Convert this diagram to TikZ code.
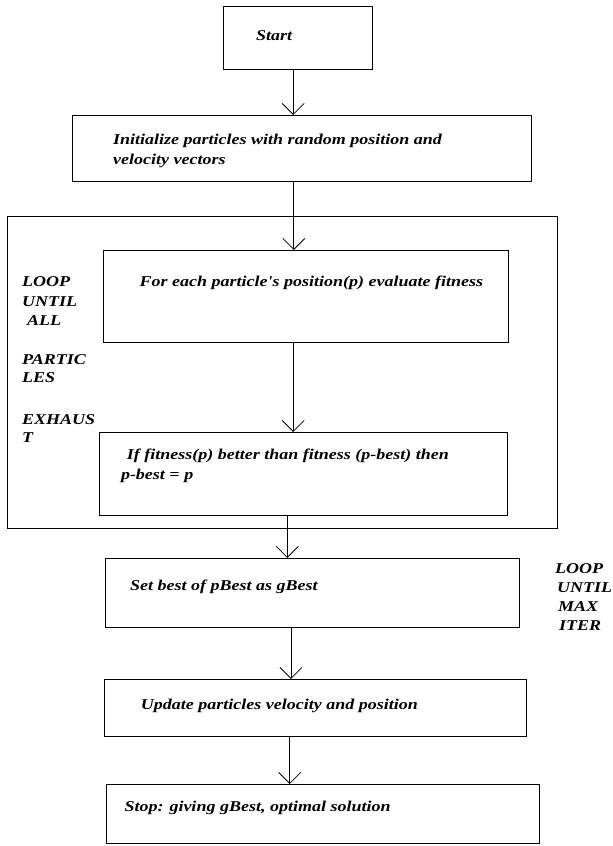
\documentclass[tikz,border=0pt]{standalone}
\usepackage{fontspec}
\newfontfamily\flowfont[FakeStretch=1.2]{Liberation Serif}
\usetikzlibrary{arrows.meta}
\tikzset{
  box/.style={draw, line width=0.9pt, inner sep=0pt, outer sep=0pt},
  txt/.style={anchor=base west, inner sep=0pt, font=\flowfont\fontsize{15}{20}\selectfont\bfseries\itshape},
  arr/.style={line width=0.8pt, -{Straight Barb[length=11pt,width=22pt,line width=0.8pt]}}
}
\begin{document}
\begin{tikzpicture}[x=1pt,y=-1pt]
\useasboundingbox (0,0) rectangle (613,846);

% process boxes
\node[box, minimum width=149, minimum height=63] (start) at (297.5,37.5) {};
\node[box, minimum width=459, minimum height=66] (init) at (301.5,148) {};
\node[box, minimum width=550, minimum height=312] (loop) at (282,372) {};
\node[box, minimum width=405, minimum height=92] (eval) at (305.5,296) {};
\node[box, minimum width=408, minimum height=83] (pbest) at (303.7,473.5) {};
\node[box, minimum width=414, minimum height=69] (gbest) at (312.6,592.5) {};
\node[box, minimum width=422, minimum height=57] (update) at (315.5,707.5) {};
\node[box, minimum width=433, minimum height=59] (stop) at (323,813.5) {};

% box texts
\node[txt] (tstart) at (256,40) {Start};
\node[txt] (tinit1) at (113,144) {Initialize particles with random position and};
\node[txt] (tinit2) at (113,164) {velocity vectors};
\node[txt] (teval) at (139.5,286) {For each particle's position(p) evaluate fitness};
\node[txt] (tpb1) at (126.7,459) {If fitness(p) better than fitness (p-best) then};
\node[txt] (tpb2) at (120.8,479) {p-best = p};
\node[txt] (tgb) at (130,590) {Set best of pBest as gBest};
\node[txt] (tup) at (140.7,709) {Update particles velocity and position};
\node[txt] (tstop) at (124.3,811) {Stop: giving gBest, optimal solution};

% inner loop label
\node[txt] (l1) at (22,286) {LOOP};
\node[txt] (l2) at (22,306) {UNTIL};
\node[txt] (l3) at (27,325) {ALL};
\node[txt] (l4) at (22,364) {PARTIC};
\node[txt] (l5) at (22,382) {LES};
\node[txt] (l6) at (22,424) {EXHAUS};
\node[txt] (l7) at (22,442) {T};

% outer loop label
\node[txt] (r1) at (555,573) {LOOP};
\node[txt] (r2) at (557,592) {UNTIL};
\node[txt] (r3) at (558,611) {MAX};
\node[txt] (r4) at (559,630) {ITER};

% connector columns
\coordinate (c1) at (293.2,0);
\coordinate (c2) at (293.8,0);
\coordinate (c3) at (293.2,0);
\coordinate (c4) at (287.3,0);
\coordinate (c5) at (290.9,0);
\coordinate (c6) at (289.7,0);

\draw[arr] (start.south -| c1) -- (init.north -| c1);
\draw[arr] (init.south -| c2) -- (eval.north -| c2);
\draw[arr] (eval.south -| c3) -- (pbest.north -| c3);
\draw[arr] (pbest.south -| c4) -- (gbest.north -| c4);
\draw[arr] (gbest.south -| c5) -- (update.north -| c5);
\draw[arr] (update.south -| c6) -- (stop.north -| c6);
\end{tikzpicture}
\end{document}
